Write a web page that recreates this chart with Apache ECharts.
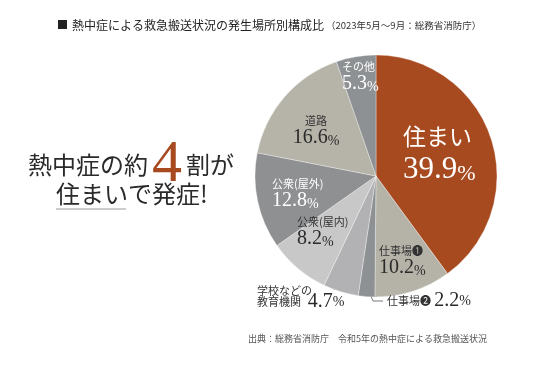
<!DOCTYPE html>
<html><head><meta charset="utf-8">
<script src="https://cdn.jsdelivr.net/npm/echarts@6/dist/echarts.min.js"></script>
<style>html,body{margin:0;padding:0;background:#fff}#c{width:540px;height:367px}</style>
</head><body><div id="c"></div>
<script>
const categories = ['住まい','仕事場❶','仕事場❷','学校などの教育機関','公衆(屋内)','公衆(屋外)','道路','その他'];
const values = [39.9, 10.2, 2.2, 4.7, 8.2, 12.8, 16.6, 5.3];
const labelNames = ['住まい','仕事場❶','仕事場❷','学校などの\n教育機関','公衆(屋内)','公衆(屋外)','道路','その他'];

const colors = ['#a84a1f','#b5b2a8','#8e9193','#b2b2b4','#c9c8c8','#8e9092','#b6b3a9','#8e9193'];
const labelKind = ['big','dark','inline','school','dark','white','dark','white'];
const labelPos = [[403,121,'left'],[379,244,'left'],[387,293,'left'],[257,285,'left'],[297,215,'left'],[272,177,'left'],[316,114,'center'],[342,60,'left']];
const linePts = {2: [[365,282],[373,301],[383,301]], 3: [[342,274],[337,284],[334,290]]};

const FF = "'Liberation Serif','Noto Sans CJK JP',serif";
const FJ = "'Noto Sans CJK JP','Liberation Serif',sans-serif";

function fmt(p) {
  const i = p.dataIndex, v = values[i].toFixed(1), k = labelKind[i];
  if (k === 'big') return '{bn|' + labelNames[i] + '}\n{bv|' + v + '}{bp|%}';
  if (k === 'white') return '{wn|' + labelNames[i] + '}\n{wv|' + v + '}{wp|%}';
  if (k === 'inline') return '{n|' + labelNames[i] + '} {iv|' + v + '}{ip|%}';
  if (k === 'school') { const s = labelNames[i].split('\n'); return '{sn|' + s[0] + '}\n{sn|' + s[1] + '}  {sv|' + v + '}{sp|%}'; }
  return '{n|' + labelNames[i] + '}\n{v|' + v + '}{p|%}';
}

const chart = echarts.init(document.getElementById('c'), null, {renderer:'canvas'});
chart.setOption({
  animation: false,
  backgroundColor: '#fff',
  graphic: [
    {type:'rect', shape:{x:58,y:20,width:9,height:9}, style:{fill:'#222'}},
    {type:'text', x:72, y:25, style:{text:'熱中症による救急搬送状況の発生場所別構成比', font:"12px 'Noto Sans CJK JP'", fill:'#222', verticalAlign:'middle'}},
    {type:'text', x:326, y:25, style:{text:'（2023年5月～9月：総務省消防庁）', font:"9.5px 'Noto Sans CJK JP'", fill:'#333', verticalAlign:'middle'}},
    {type:'text', x:28, y:165, style:{
      text:'{a|熱中症の約}{b|4}{a|割が}', verticalAlign:'middle',
      rich:{a:{fontSize:24, fontFamily:FJ, fill:'#2a2a2a'}, b:{fontSize:60, fontFamily:"'Liberation Serif'", fill:'#a84a1f', padding:[0,4,0,4]}}}},
    {type:'text', x:56, y:194, style:{text:'住まいで発症!', font:"24px 'Noto Sans CJK JP'", fill:'#2a2a2a', verticalAlign:'middle'}},
    {type:'line', shape:{x1:56,y1:209,x2:126,y2:209}, style:{stroke:'#9a9a9a', lineWidth:1}},
    {type:'text', x:248, y:339, style:{text:'出典：総務省消防庁　令和5年の熱中症による救急搬送状況', font:"9px 'Noto Sans CJK JP'", fill:'#555', verticalAlign:'middle'}}
  ],
  series: [{
    type: 'pie',
    center: [376, 176],
    radius: 121,
    startAngle: 90,
    clockwise: true,
    avoidLabelOverlap: false,
    itemStyle: {borderColor:'rgba(255,255,255,0.55)', borderWidth:0.6},
    label: {
      show: true, position: 'inside', formatter: fmt,
      rich: {
        n:{fontSize:11, lineHeight:14, color:'#333', fontFamily:FJ},
        v:{fontSize:20, lineHeight:20, color:'#2a2a2a', fontFamily:FF, verticalAlign:'bottom'},
        p:{fontSize:14, lineHeight:20, color:'#2a2a2a', fontFamily:FF, verticalAlign:'bottom'},
        wn:{fontSize:11, lineHeight:14, color:'#fff', fontFamily:FJ},
        wv:{fontSize:20, lineHeight:20, color:'#fff', fontFamily:FF, verticalAlign:'bottom'},
        wp:{fontSize:14, lineHeight:20, color:'#fff', fontFamily:FF, verticalAlign:'bottom'},
        bn:{fontSize:23, lineHeight:30, color:'#fff', fontFamily:FJ},
        bv:{fontSize:31, lineHeight:34, color:'#fff', fontFamily:FF, verticalAlign:'bottom'},
        bp:{fontSize:22, lineHeight:34, color:'#fff', fontFamily:FF, verticalAlign:'bottom'},
        iv:{fontSize:20, lineHeight:16, color:'#2a2a2a', fontFamily:FF},
        ip:{fontSize:14, lineHeight:16, color:'#2a2a2a', fontFamily:FF},
        sn:{fontSize:11, lineHeight:11, color:'#333', fontFamily:FJ},
        sv:{fontSize:20, lineHeight:11, color:'#2a2a2a', fontFamily:FF},
        sp:{fontSize:14, lineHeight:11, color:'#2a2a2a', fontFamily:FF}
      }
    },
    labelLine: {show:false},
    labelLayout: function (p) {
      const q = labelPos[p.dataIndex];
      const o = {x:q[0], y:q[1], align:q[2], verticalAlign:'top'};
      if (linePts[p.dataIndex]) o.labelLinePoints = linePts[p.dataIndex];
      return o;
    },
    data: categories.map(function (c, i) {
      const d = {name:c, value:values[i], itemStyle:{color:colors[i]}};
      if (linePts[i]) { d.label = {position:'outside'}; d.labelLine = {show:true, length:5, length2:5, lineStyle:{color:'#555', width:0.8}}; }
      return d;
    })
  }]
});
</script></body></html>
